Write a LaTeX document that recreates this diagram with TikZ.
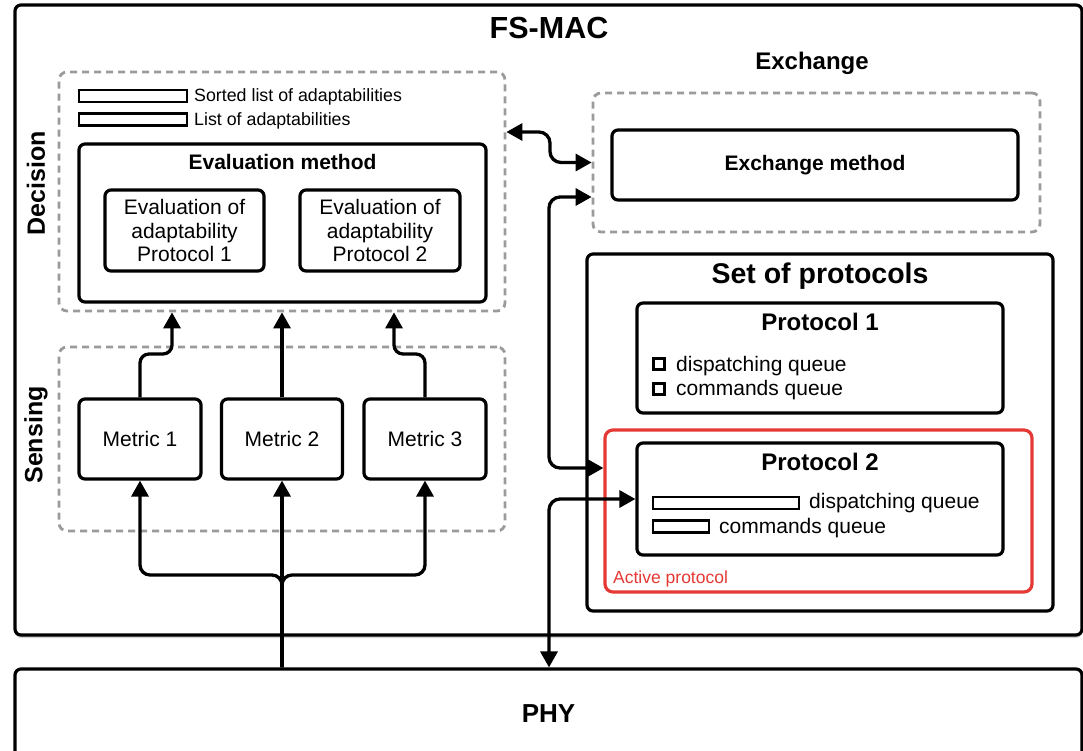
\documentclass[tikz,border=0pt]{standalone}
\usepackage{fontspec}
\setmainfont{Liberation Sans}
\usetikzlibrary{arrows.meta,shadows,calc}
\definecolor{dashgray}{RGB}{155,155,155}
\definecolor{actred}{RGB}{229,57,53}
\begin{document}
\begin{tikzpicture}[x=1pt,y=-1pt,
  box/.style={draw=black, line width=3.2pt, rounded corners=6pt, fill=white, inner sep=0pt},
  dbox/.style={draw=dashgray, line width=2.8pt, dash pattern=on 7pt off 5pt, rounded corners=8pt, inner sep=0pt},
  bar/.style={draw=black, line width=2.3pt, fill=white, inner sep=0pt},
  sqbox/.style={draw=black, line width=2.3pt, fill=white, inner sep=0pt, minimum width=11pt, minimum height=11pt},
  conn/.style={draw=black, line width=3.3pt, rounded corners=10pt, -{Triangle[length=16pt,width=17pt]}},
  biconn/.style={draw=black, line width=3.3pt, rounded corners=11pt, {Triangle[length=16pt,width=17pt]}-{Triangle[length=16pt,width=17pt]}},
  ttl/.style={font=\bfseries\fontsize{#1}{#1}\selectfont, inner sep=0pt},
  txt/.style={font=\fontsize{#1}{#1}\selectfont, inner sep=0pt},
  shd/.style={drop shadow={shadow xshift=0pt, shadow yshift=-3pt, opacity=0.35}}
]
\useasboundingbox (0,0) rectangle (1083,750);

% outer boxes
\node[box, shd, minimum width=1067pt, minimum height=630pt] (fsmac) at (548.5,320) {};
\node[box, shd, minimum width=1067pt, minimum height=90pt] (phy) at (548.5,714) {};
\node[ttl=26] (tphy) at (548.5,714) {PHY};
\node[ttl=30.5] (tfs) at (549,28) {FS-MAC};

% side labels
\node[ttl=25, rotate=90] (ldec) at (36,183) {Decision};
\node[ttl=25, rotate=90] (lsen) at (36,435) {Sensing};

% decision
\node[dbox, minimum width=446pt, minimum height=239pt] (decision) at (282,191.5) {};
\node[bar, minimum width=108pt, minimum height=12pt] (bar1) at (133,96) {};
\node[bar, minimum width=108pt, minimum height=12pt] (bar2) at (133,119.5) {};
\node[txt=17.8, anchor=west] (tbar1) at (194,97) {Sorted list of adaptabilities};
\node[txt=17.8, anchor=west] (tbar2) at (194,120.5) {List of adaptabilities};
\node[box, minimum width=407pt, minimum height=158pt] (evalm) at (282.5,223) {};
\node[ttl=21] (tevalm) at (282.5,162) {Evaluation method};
\node[box, minimum width=159pt, minimum height=81pt, align=center, font=\fontsize{21}{23.5}\selectfont] (evp1) at (184.5,230.5) {Evaluation of\\adaptability\\Protocol 1};
\node[box, minimum width=160pt, minimum height=81pt, align=center, font=\fontsize{21}{23.5}\selectfont] (evp2) at (380,230.5) {Evaluation of\\adaptability\\Protocol 2};

% sensing
\node[dbox, minimum width=446pt, minimum height=184pt] (sensing) at (282,439) {};
\node[box, minimum width=122pt, minimum height=80pt, font=\fontsize{21}{21}\selectfont] (m1) at (140,439) {Metric 1};
\node[box, minimum width=121pt, minimum height=80pt, font=\fontsize{21}{21}\selectfont] (m2) at (282,439) {Metric 2};
\node[box, minimum width=122pt, minimum height=80pt, font=\fontsize{21}{21}\selectfont] (m3) at (425,439) {Metric 3};

% exchange
\node[ttl=24] (texch) at (812,63) {Exchange};
\node[dbox, minimum width=447pt, minimum height=139pt] (exch) at (816.5,162.5) {};
\node[box, minimum width=406pt, minimum height=70pt, font=\bfseries\fontsize{21}{21}\selectfont] (exchm) at (815,165) {Exchange method};

% set of protocols
\node[box, minimum width=466pt, minimum height=357pt] (setp) at (820,432.5) {};
\node[ttl=28.5] (tsetp) at (820,276) {Set of protocols};
\node[box, minimum width=366pt, minimum height=110pt] (p1) at (820,358) {};
\node[ttl=24] (tp1) at (820,322) {Protocol 1};
\node[sqbox] (sq1) at (659,364) {};
\node[sqbox] (sq2) at (659,389) {};
\node[txt=21, anchor=west] (tq1) at (676,366) {dispatching queue};
\node[txt=21, anchor=west] (tq2) at (676,390) {commands queue};

\node[draw=actred, line width=3.2pt, rounded corners=8pt, inner sep=0pt, minimum width=427pt, minimum height=162pt] (red) at (818.5,511) {};
\node[txt=17.5, text=actred, anchor=west] (tact) at (613,579) {Active protocol};
\node[box, minimum width=366pt, minimum height=112pt] (p2) at (820,499) {};
\node[ttl=24] (tp2) at (820,462) {Protocol 2};
\node[bar, minimum width=146pt, minimum height=12pt] (bq1) at (726,503) {};
\node[bar, minimum width=56pt, minimum height=12pt] (bq2) at (681,526.5) {};
\node[txt=21, anchor=west] (tq3) at (809,503) {dispatching queue};
\node[txt=21, anchor=west] (tq4) at (719,528) {commands queue};

% sensing -> decision
\draw[conn, rounded corners=9pt] (m1.north) -- (140,354) -- (172,354) -- ($(decision.south)+(-110,0)$);
\draw[conn] (m2.north) -- (m2 |- decision.south);
\draw[conn, rounded corners=9pt] (m3.north) -- (425,354) -- (394,354) -- ($(decision.south)+(112,0)$);

% PHY -> metrics
\draw[conn] (m2 |- phy.north) -- (m2.south);
\draw[conn] (m2 |- phy.north) -- (282,575) -- (140,575) -- (m1.south);
\draw[conn] (m2 |- phy.north) -- (282,575) -- (425,575) -- (m3.south);

% decision <-> exchange
\coordinate (c1) at (550,132);
\draw[biconn] (decision.east |- c1) -- (c1) -- (c1 |- exch.west) -- (exch.west);

% exchange <-> active protocol
\coordinate (v1) at (549,197);
\coordinate (v2) at (549,468);
\draw[biconn] (v1 -| exch.west) -- (v1) -- (v2) -- (v2 -| red.west);

% protocol 2 <-> PHY
\coordinate (v3) at (549,499);
\draw[biconn] (p2.west) -- (v3) -- (v3 |- phy.north);
\end{tikzpicture}
\end{document}
